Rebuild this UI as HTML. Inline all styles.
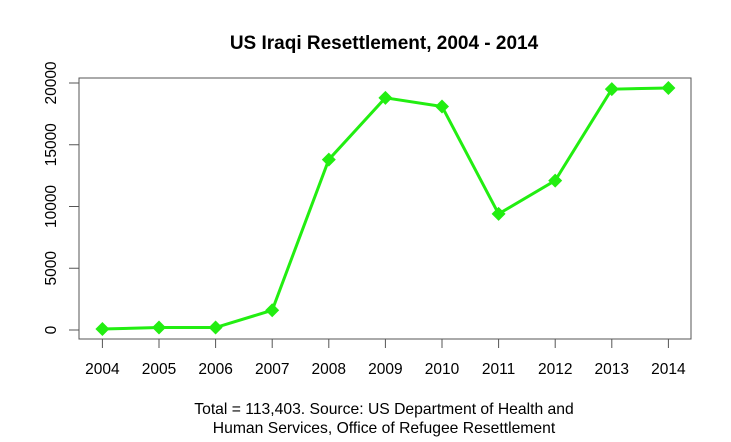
<!DOCTYPE html>
<html><head><meta charset="utf-8"><style>
body{margin:0;background:#fff;}
svg text{font-family:"Liberation Sans",Arial,sans-serif;fill:#000;}
</style></head><body>
<svg width="731" height="437" id="chart">
<text x="384" y="49" text-anchor="middle" font-size="19" font-weight="bold">US Iraqi Resettlement, 2004 - 2014</text>
<rect x="79" y="78" width="612" height="261" fill="none" stroke="#555" stroke-width="1"/>
<g id="axes"></g>
<g id="series"></g>
<text x="384" y="414" text-anchor="middle" font-size="15.7">Total = 113,403. Source: US Department of Health and</text>
<text x="384" y="433" text-anchor="middle" font-size="15.7">Human Services, Office of Refugee Resettlement</text>
</svg>
<script>
const years=[2004,2005,2006,2007,2008,2009,2010,2011,2012,2013,2014];
const values=[80,200,200,1600,13800,18800,18100,9400,12100,19500,19600];
const yTicks=[0,5000,10000,15000,20000];
const NS="http://www.w3.org/2000/svg";
const x=i=>102.4+i*56.6;
const y=v=>330-v*0.01235;
const axes=document.getElementById('axes'),series=document.getElementById('series');
function mk(tag,attrs,parent){const e=document.createElementNS(NS,tag);for(const k in attrs)e.setAttribute(k,attrs[k]);parent.appendChild(e);return e;}
years.forEach((yr,i)=>{
  const t=mk('line',{x1:x(i),x2:x(i),y1:339,y2:348,stroke:'#555'},axes);
  
  
  const l=mk('text',{x:x(i),y:374,'text-anchor':'middle','font-size':'15.5'},axes);
  l.textContent=yr;
  
  
});
yTicks.forEach(v=>{
  const t=mk('line',{x1:69,x2:79,y1:y(v),y2:y(v),stroke:'#555'},axes);
  
  
  const l=mk('text',{x:0,y:0,'text-anchor':'middle','font-size':'15.5',transform:`translate(56,${y(v)}) rotate(-90)`},axes);
  l.textContent=v;
  
  
});
const pts=values.map((v,i)=>x(i)+','+y(v)).join(' ');
const line=mk('polyline',{points:pts,fill:'none',stroke:'#22ee11','stroke-width':3},series);


values.forEach((v,i)=>{
  const cx=x(i),cy=y(v),r=7;
  const p=mk('polygon',{points:`${cx},${cy-r} ${cx+r},${cy} ${cx},${cy+r} ${cx-r},${cy}`,fill:'#22ee11'},series);
  
  
});
</script>
</body></html>
